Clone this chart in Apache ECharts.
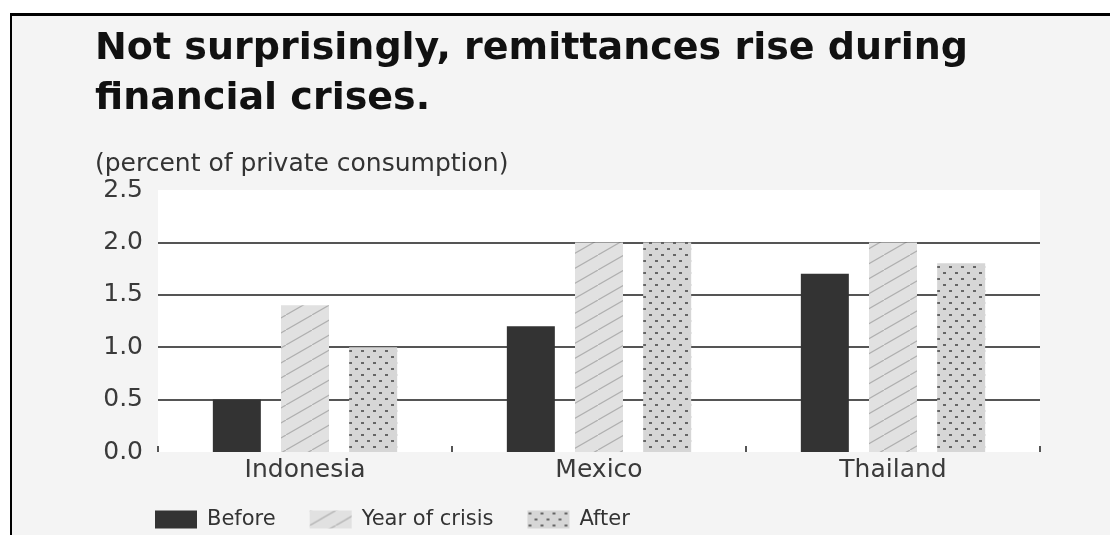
<!DOCTYPE html>
<html>
<head>
<meta charset="utf-8">
<script src="https://cdn.jsdelivr.net/npm/echarts@6/dist/echarts.min.js"></script>
<style>
  html, body { margin: 0; padding: 0; background: #ffffff; }
  #panel { position: absolute; left: 10px; top: 13px; width: 1100px; height: 522px;
           background: #f4f4f4; border-top: 3px solid #000; border-left: 2.5px solid #000; box-sizing: border-box; }
  #chart { position: absolute; left: 0; top: 0; width: 1110px; height: 535px; }
</style>
</head>
<body>
<div id="panel"></div>
<div id="chart"></div>
<script>
const titleText = 'Not surprisingly, remittances rise during\nfinancial crises.';
const subtitleText = '(percent of private consumption)';
const categories = ['Indonesia', 'Mexico', 'Thailand'];
const seriesNames = ['Before', 'Year of crisis', 'After'];
const before = [0.5, 1.2, 1.7];
const yearOfCrisis = [1.4, 2.0, 2.0];
const after = [1.0, 2.0, 1.8];
const yTicks = [0, 0.5, 1.0, 1.5, 2.0, 2.5];

function hatchPattern() {
  const c = document.createElement('canvas');
  c.width = 26; c.height = 15;
  const g = c.getContext('2d');
  g.fillStyle = '#e1e1e1';
  g.fillRect(0, 0, 26, 15);
  g.strokeStyle = '#b0b0b0';
  g.lineWidth = 1.2;
  g.beginPath();
  g.moveTo(-26, 30); g.lineTo(52, -15);
  g.moveTo(0, 15); g.lineTo(26, 0);
  g.stroke();
  return c;
}
function dotPattern() {
  const c = document.createElement('canvas');
  c.width = 12; c.height = 12;
  const g = c.getContext('2d');
  g.fillStyle = '#d6d6d6';
  g.fillRect(0, 0, 12, 12);
  g.fillStyle = '#666666';
  [[1, 2], [7, 8]].forEach(p => g.fillRect(p[0], p[1], 3, 2));
  return c;
}

const chart = echarts.init(document.getElementById('chart'));
const font = 'DejaVu Sans';
const hatch = { image: hatchPattern(), repeat: 'repeat' };
const dots = { image: dotPattern(), repeat: 'repeat' };
const fills = ['#333333', hatch, dots];
const values = [before, yearOfCrisis, after];

chart.setOption({
  animation: false,
  backgroundColor: 'transparent',
  textStyle: { fontFamily: font },
  title: [
    { text: titleText, left: 90, top: 19,
      textStyle: { fontFamily: font, fontSize: 38, fontWeight: 'bold', color: '#111', lineHeight: 50 } },
    { text: subtitleText, left: 90, top: 147,
      textStyle: { fontFamily: font, fontSize: 25, fontWeight: 'normal', color: '#333' } }
  ],
  legend: {
    left: 150, top: 504, itemWidth: 42, itemHeight: 18, itemGap: 34, icon: 'rect',
    data: seriesNames,
    textStyle: { fontFamily: font, fontSize: 21, color: '#333', padding: [0, 0, 0, 5] }
  },
  grid: { left: 158, right: 70, top: 190, bottom: 83, show: true, backgroundColor: '#ffffff', borderWidth: 0 },
  xAxis: {
    type: 'category', data: categories,
    axisLine: { show: false },
    axisTick: { show: true, inside: true, length: 6, lineStyle: { color: '#555', width: 2 } },
    axisLabel: { fontFamily: font, fontSize: 25, color: '#3a3a3a', margin: 6 }
  },
  yAxis: {
    type: 'value', min: yTicks[0], max: yTicks[yTicks.length - 1], interval: 0.5,
    axisLine: { show: false }, axisTick: { show: false },
    axisLabel: { fontFamily: font, fontSize: 25, color: '#3a3a3a', margin: 15, formatter: v => v.toFixed(1) },
    splitLine: { show: true, lineStyle: { color: ['rgba(0,0,0,0)', '#555', '#555', '#555', '#555', 'rgba(0,0,0,0)'], width: 2 } }
  },
  series: seriesNames.map((name, i) => ({
    name, type: 'bar', data: values[i], barWidth: 48, barGap: '42%',
    itemStyle: { color: fills[i] }
  }))
});
</script>
</body>
</html>
